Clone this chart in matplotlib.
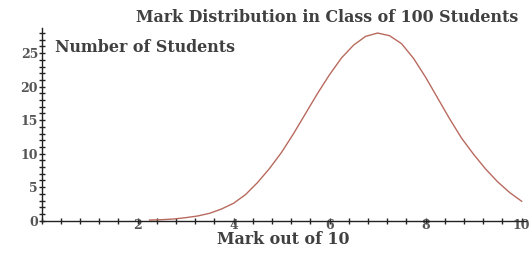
"""
mark distribution chart
"""

import matplotlib
matplotlib.use("Agg")
import matplotlib.pyplot as plt
from matplotlib.ticker import MultipleLocator


# values
marks = [2.25, 2.5, 2.75, 3.0, 3.25, 3.5, 3.75, 4.0, 4.25, 4.5, 4.75,
         5.0, 5.25, 5.5, 5.75, 6.0, 6.25, 6.5, 6.75, 7.0, 7.25, 7.5,
         7.75, 8.0, 8.25, 8.5, 8.75, 9.0, 9.25, 9.5, 9.75, 10.0]
students = [0.1, 0.15, 0.25, 0.45, 0.7, 1.1, 1.75, 2.6, 3.9, 5.7, 7.8,
            10.2, 13.0, 16.0, 19.0, 21.8, 24.3, 26.2, 27.5, 28.0, 27.6, 26.4,
            24.2, 21.4, 18.3, 15.2, 12.3, 9.9, 7.7, 5.8, 4.2, 2.9]
x_ticks = [2, 4, 6, 8, 10]
y_ticks = [0, 5, 10, 15, 20, 25]

title = "Mark Distribution in Class of 100 Students"
x_label = "Mark out of 10"
y_label = "Number of Students"


def viz():
    fig = plt.figure(figsize=(5.31, 2.54), dpi=100)
    # axes placed so data (0,0) sits where the reference has it
    ax = fig.add_axes([41.5 / 531, (254 - 220.7) / 254,
                       (525.5 - 41.5) / 531, (220.7 - 28) / 254])
    ax.plot(marks, students, color="#b86a5e", linewidth=1.0)
    ax.set_xlim(0, 10.08)
    ax.set_ylim(0, 28.75)

    for side in ("top", "right"):
        ax.spines[side].set_visible(False)
    for side in ("left", "bottom"):
        ax.spines[side].set_linewidth(1.0)
        ax.spines[side].set_color("#222222")

    ax.set_xticks(x_ticks)
    ax.set_yticks(y_ticks)
    ax.xaxis.set_minor_locator(MultipleLocator(0.4))
    ax.yaxis.set_minor_locator(MultipleLocator(1))
    ax.tick_params(which="major", direction="inout", length=5, width=1,
                   color="#222222", labelsize=9, labelcolor="#555555")
    ax.tick_params(which="minor", direction="inout", length=4, width=1,
                   color="#222222")
    ax.tick_params(axis="x", which="major", pad=-4)
    ax.tick_params(axis="y", which="major", pad=0)
    for lab in ax.get_xticklabels() + ax.get_yticklabels():
        lab.set_family("DejaVu Serif")
        lab.set_weight("bold")

    text_style = dict(family="DejaVu Serif", fontsize=11.4, weight="bold",
                      color="#404040", va="center")
    fig.text(518 / 531, 1 - 18 / 254, title, ha="right", **text_style)
    fig.text(55 / 531, 1 - 48 / 254, y_label, ha="left", **text_style)
    fig.text(283 / 531, 1 - 240 / 254, x_label, ha="center", **text_style)

    fig.savefig("out.png", dpi=100, facecolor="white")


if __name__ == "__main__":
    viz()
